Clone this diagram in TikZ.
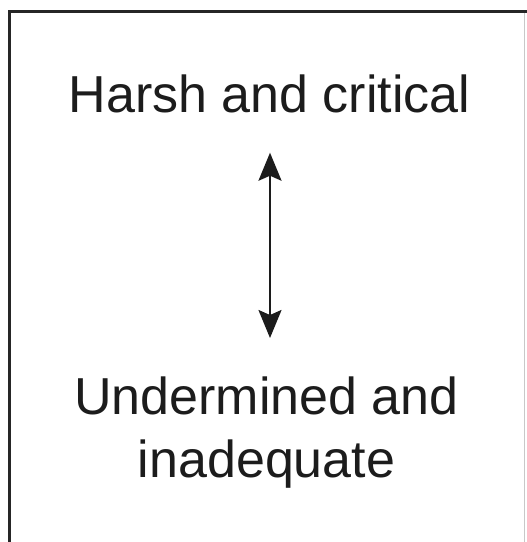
\documentclass[tikz,border=0pt]{standalone}
\usepackage{fontspec}
\setmainfont{Liberation Sans}
\usetikzlibrary{arrows.meta}
\definecolor{ink}{HTML}{1C1C1C}
\definecolor{frameline}{HTML}{262626}
\definecolor{edgegrey}{HTML}{C8C8C8}
\begin{document}
\begin{tikzpicture}[x=1pt,y=1pt,
  label text/.style={inner sep=0pt, text=ink, align=center,
    font=\fontsize{52}{63}\selectfont},
  twoway/.style={draw=ink, line width=2.2pt,
    {Stealth[length=28pt,width=23pt,inset=5pt]}-{Stealth[length=28pt,width=23pt,inset=5pt]}}]
  \useasboundingbox (0,0) rectangle (527,-542);
  \fill[white] (0,0) rectangle (527,-542);
  % outer frame, open to the right and bottom
  \begin{scope}
    \clip (0,0) rectangle (527,-542);
    \draw[frameline, line width=3.5pt] (9.5,-560) -- (9.5,-11.5) -- (540,-11.5);
    \draw[edgegrey, line width=1pt] (524,-13) -- (524,-560);
  \end{scope}
  % the two poles
  \node[label text, anchor=base] (harsh) at (269.5,-112) {Harsh and critical};
  \node[label text, anchor=north] (under) at (266.5,-377) {Undermined and\\inadequate};
  % two-headed arrow between them
  \draw[twoway, shorten <=40pt, shorten >=39pt]
    ([xshift=0.5pt]harsh.south) -- ([xshift=0.5pt]harsh.south |- under.north);
\end{tikzpicture}
\end{document}
